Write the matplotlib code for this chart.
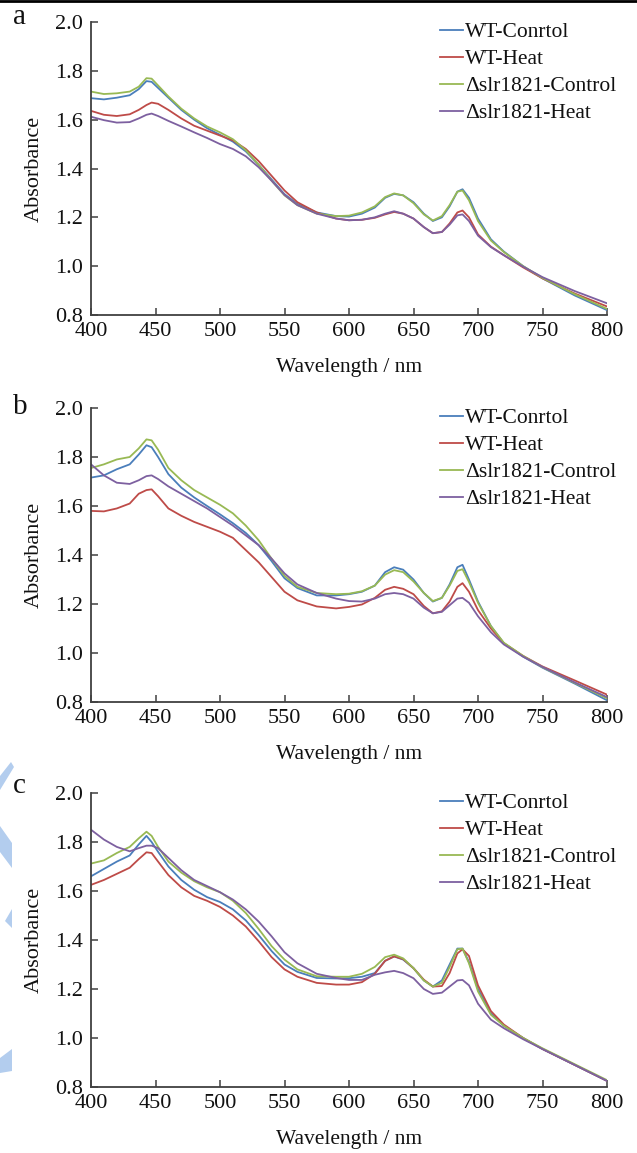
import matplotlib
matplotlib.use('Agg')
import matplotlib.pyplot as plt
from matplotlib.patches import Polygon
from matplotlib.lines import Line2D

plt.rcParams['font.family'] = ['Liberation Serif', 'DejaVu Serif']

labels = ['WT-Conrtol', 'WT-Heat', '\u0394slr1821-Control', '\u0394slr1821-Heat']
colors = ['#4a7ebb', '#be4b48', '#98b954', '#7d60a0']

wl = [400, 410, 420, 430, 437, 443, 447, 452, 460, 470, 480, 490, 500, 510, 520,
      530, 540, 550, 560, 575, 590, 600, 610, 620, 628, 635, 642, 650, 658, 665,
      672, 678, 684, 688, 693, 700, 710, 720, 735, 750, 775, 800]

# panel a
a_wt_ctrl = [1.688, 1.683, 1.690, 1.700, 1.725, 1.758, 1.755, 1.730, 1.690, 1.640, 1.600, 1.565, 1.538, 1.510, 1.470,
             1.415, 1.355, 1.295, 1.255, 1.220, 1.205, 1.203, 1.215, 1.240, 1.280, 1.296, 1.290, 1.262, 1.215, 1.185,
             1.200, 1.245, 1.305, 1.315, 1.280, 1.195, 1.110, 1.060, 1.000, 0.950, 0.880, 0.820]
a_wt_heat = [1.636, 1.620, 1.615, 1.622, 1.640, 1.660, 1.670, 1.665, 1.640, 1.605, 1.575, 1.555, 1.535, 1.515, 1.480,
             1.430, 1.370, 1.310, 1.262, 1.220, 1.195, 1.188, 1.190, 1.198, 1.212, 1.222, 1.215, 1.195, 1.160, 1.135,
             1.140, 1.175, 1.220, 1.228, 1.200, 1.130, 1.080, 1.045, 0.995, 0.950, 0.888, 0.835]
a_mut_ctrl = [1.715, 1.705, 1.708, 1.715, 1.735, 1.770, 1.768, 1.740, 1.695, 1.645, 1.605, 1.572, 1.548, 1.520, 1.475,
              1.415, 1.350, 1.290, 1.250, 1.215, 1.205, 1.207, 1.220, 1.245, 1.283, 1.298, 1.290, 1.258, 1.212, 1.187,
              1.205, 1.250, 1.305, 1.310, 1.270, 1.185, 1.105, 1.058, 1.000, 0.952, 0.885, 0.825]
a_mut_heat = [1.612, 1.598, 1.588, 1.590, 1.605, 1.620, 1.625, 1.615, 1.595, 1.572, 1.548, 1.525, 1.500, 1.480, 1.450,
              1.405, 1.350, 1.292, 1.250, 1.215, 1.195, 1.188, 1.190, 1.200, 1.215, 1.225, 1.215, 1.195, 1.160, 1.135,
              1.140, 1.170, 1.208, 1.212, 1.185, 1.125, 1.078, 1.045, 0.998, 0.955, 0.898, 0.848]

# panel b
b_wt_ctrl = [1.716, 1.725, 1.750, 1.770, 1.810, 1.848, 1.840, 1.800, 1.730, 1.675, 1.635, 1.600, 1.566, 1.530, 1.490,
             1.440, 1.375, 1.305, 1.265, 1.235, 1.235, 1.240, 1.250, 1.275, 1.330, 1.350, 1.340, 1.300, 1.245, 1.210,
             1.225, 1.280, 1.350, 1.360, 1.300, 1.210, 1.110, 1.040, 0.985, 0.940, 0.875, 0.807]
b_wt_heat = [1.580, 1.578, 1.590, 1.610, 1.650, 1.665, 1.668, 1.640, 1.590, 1.560, 1.535, 1.515, 1.495, 1.470, 1.420,
             1.370, 1.310, 1.250, 1.215, 1.190, 1.182, 1.188, 1.198, 1.225, 1.258, 1.270, 1.262, 1.240, 1.192, 1.162,
             1.170, 1.210, 1.270, 1.285, 1.250, 1.175, 1.100, 1.040, 0.988, 0.945, 0.888, 0.830]
b_mut_ctrl = [1.755, 1.770, 1.790, 1.800, 1.835, 1.872, 1.868, 1.830, 1.755, 1.705, 1.665, 1.635, 1.605, 1.570, 1.520,
              1.460, 1.385, 1.315, 1.270, 1.245, 1.240, 1.242, 1.252, 1.275, 1.320, 1.338, 1.330, 1.292, 1.245, 1.212,
              1.225, 1.275, 1.335, 1.342, 1.290, 1.205, 1.110, 1.042, 0.988, 0.942, 0.878, 0.815]
b_mut_heat = [1.770, 1.725, 1.695, 1.690, 1.705, 1.722, 1.725, 1.710, 1.680, 1.650, 1.620, 1.590, 1.555, 1.520, 1.480,
              1.440, 1.385, 1.325, 1.280, 1.245, 1.222, 1.212, 1.210, 1.222, 1.240, 1.245, 1.240, 1.222, 1.185, 1.162,
              1.168, 1.195, 1.222, 1.225, 1.205, 1.150, 1.085, 1.035, 0.985, 0.943, 0.880, 0.820]

# panel c
c_wt_ctrl = [1.660, 1.690, 1.720, 1.745, 1.790, 1.825, 1.800, 1.760, 1.700, 1.645, 1.605, 1.575, 1.555, 1.525, 1.480,
             1.420, 1.355, 1.300, 1.270, 1.245, 1.243, 1.244, 1.250, 1.265, 1.315, 1.333, 1.320, 1.285, 1.235, 1.210,
             1.235, 1.300, 1.365, 1.365, 1.310, 1.200, 1.100, 1.050, 1.000, 0.955, 0.890, 0.825]
c_wt_heat = [1.625, 1.645, 1.670, 1.695, 1.730, 1.758, 1.755, 1.720, 1.665, 1.615, 1.580, 1.560, 1.535, 1.500, 1.455,
             1.395, 1.330, 1.280, 1.250, 1.225, 1.218, 1.218, 1.228, 1.262, 1.315, 1.333, 1.322, 1.285, 1.238, 1.210,
             1.212, 1.265, 1.345, 1.362, 1.335, 1.215, 1.110, 1.055, 1.000, 0.955, 0.890, 0.825]
c_mut_ctrl = [1.712, 1.725, 1.755, 1.780, 1.815, 1.842, 1.825, 1.780, 1.720, 1.675, 1.640, 1.615, 1.595, 1.560, 1.510,
              1.445, 1.375, 1.320, 1.280, 1.252, 1.250, 1.250, 1.262, 1.290, 1.330, 1.340, 1.325, 1.285, 1.235, 1.210,
              1.225, 1.290, 1.362, 1.365, 1.305, 1.190, 1.095, 1.050, 1.000, 0.958, 0.893, 0.828]
c_mut_heat = [1.850, 1.810, 1.780, 1.762, 1.775, 1.785, 1.785, 1.775, 1.735, 1.685, 1.645, 1.620, 1.595, 1.565, 1.525,
              1.475, 1.415, 1.350, 1.305, 1.262, 1.245, 1.237, 1.237, 1.258, 1.268, 1.274, 1.265, 1.244, 1.200, 1.180,
              1.185, 1.210, 1.235, 1.237, 1.215, 1.140, 1.075, 1.040, 0.995, 0.955, 0.890, 0.825]

panels = [
    ('a', [a_wt_ctrl, a_wt_heat, a_mut_ctrl, a_mut_heat]),
    ('b', [b_wt_ctrl, b_wt_heat, b_mut_ctrl, b_mut_heat]),
    ('c', [c_wt_ctrl, c_wt_heat, c_mut_ctrl, c_mut_heat]),
]

W, H = 637, 1153
fig = plt.figure(figsize=(W / 100, H / 100), dpi=100)

# axes boxes in pixels: (top, bottom), and where each panel letter sits
boxes = [(22, 315), (408, 702), (793, 1087)]
letter_base = [24, 414, 793]
left_px, right_px = 91, 607

spine_col = '#404040'
for (letter, series), (top, bot), lb in zip(panels, boxes, letter_base):
    ax = fig.add_axes([left_px / W, 1 - bot / H, (right_px - left_px) / W, (bot - top) / H])
    for s, lab, col in zip(series, labels, colors):
        ax.plot(wl, s, color=col, lw=1.3, label=lab)
    ax.set_xlim(400, 800)
    ax.set_ylim(0.8, 2.0)
    ax.set_xticks(range(400, 801, 50))
    ax.set_yticks([0.8, 1.0, 1.2, 1.4, 1.6, 1.8, 2.0])
    ax.set_yticklabels(['0.8', '1.0', '1.2', '1.4', '1.6', '1.8', '2.0'])
    for sp in ['top', 'right']:
        ax.spines[sp].set_visible(False)
    for sp in ['left', 'bottom']:
        ax.spines[sp].set_color(spine_col)
        ax.spines[sp].set_linewidth(1.3)
    ax.tick_params(direction='in', length=5, width=1.1, color=spine_col,
                   labelsize=16, labelcolor='#111111')
    ax.tick_params(axis='y', pad=6)
    ax.tick_params(axis='x', pad=5)
    ax.set_xlabel('Wavelength / nm', fontsize=15.5, labelpad=12, color='#111111')
    ax.set_ylabel('Absorbance', fontsize=16, labelpad=8, color='#111111')
    leg = ax.legend(loc='upper left', bbox_to_anchor=((440 - left_px) / (right_px - left_px), 0.999),
                    frameon=False, fontsize=15.5, handlelength=1.05, handletextpad=0.1,
                    labelspacing=0.32, borderpad=0, borderaxespad=0)
    for t in leg.get_texts():
        t.set_color('#111111')
    fig.text(13 / W, 1 - lb / H, letter, fontsize=21, ha='left', va='baseline', color='#111111')

# faint watermark shapes on the left edge
wm = '#b3cdee'
shapes = [
    [(0, 776), (11, 762), (14, 767), (0, 790)],
    [(0, 826), (0, 852), (12, 868), (12, 843)],
    [(5, 921), (12, 909), (12, 928)],
    [(0, 1058), (12, 1049), (12, 1071), (0, 1073)],
]
for pts in shapes:
    fig.patches.append(Polygon([(x / W, 1 - y / H) for x, y in pts], closed=True,
                               transform=fig.transFigure, facecolor=wm, edgecolor='none', zorder=-1))

# thin border line at the very top
fig.add_artist(Line2D([0, 1], [1 - 1 / H, 1 - 1 / H], transform=fig.transFigure, color='black', lw=2))

fig.savefig('out.png', dpi=100)
